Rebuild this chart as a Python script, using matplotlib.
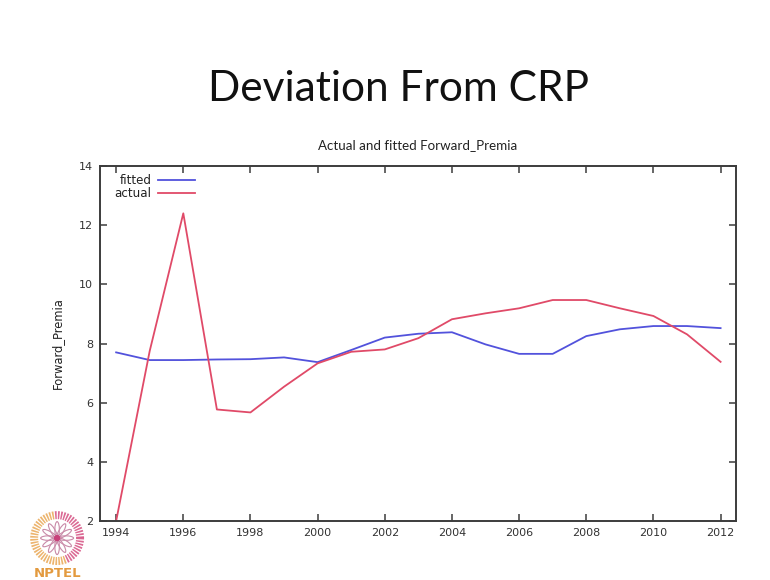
import numpy as np
import matplotlib
matplotlib.use("Agg")
import matplotlib.pyplot as plt
from matplotlib.patches import Wedge, Circle, Ellipse

# Forward premia: model fit vs. observed values
years = [1994, 1995, 1996, 1997, 1998, 1999, 2000, 2001, 2002, 2003,
         2004, 2005, 2006, 2007, 2008, 2009, 2010, 2011, 2012]
fitted = [7.70, 7.44, 7.44, 7.46, 7.47, 7.53, 7.37, 7.78, 8.20, 8.33,
          8.38, 7.97, 7.65, 7.65, 8.25, 8.48, 8.59, 8.59, 8.52]
actual = [2.00, 7.75, 12.40, 5.77, 5.67, 6.54, 7.33, 7.72, 7.80, 8.18,
          8.82, 9.02, 9.19, 9.47, 9.47, 9.19, 8.93, 8.31, 7.38]

x_ticks = list(range(1994, 2013, 2))
y_ticks = [2, 4, 6, 8, 10, 12, 14]

BLUE = "#5252dc"
RED = "#e04a68"
AXIS = "#3c3c3c"

fig = plt.figure(figsize=(7.7, 5.8), dpi=100)
fig.patch.set_facecolor("white")

# Slide heading
fig.text(0.517, 0.847, "Deviation From CRP", ha="center", va="center",
         fontsize=30.5, family="Lato", color="#111111")

ax = fig.add_axes([0.1299, 0.1017, 0.8260, 0.6121])
ax.plot(years, fitted, color=BLUE, lw=1.3, label="fitted")
ax.plot(years, actual, color=RED, lw=1.3, label="actual")

ax.set_xlim(1993.52, 2012.46)
ax.set_ylim(2, 14)
ax.set_xticks(x_ticks)
ax.set_yticks(y_ticks)
ax.tick_params(direction="in", length=5, width=1.1, color=AXIS,
               top=True, right=True, labelsize=8, labelcolor="#333333", pad=5)
for s in ax.spines.values():
    s.set_color(AXIS)
    s.set_linewidth(1.4)

ax.set_title("Actual and fitted Forward_Premia", fontsize=9.6, family="Lato",
             color="#222222", pad=12)
ax.set_ylabel("Forward_Premia", fontsize=8.3, color="#222222", labelpad=11)

leg = ax.legend(loc="upper left", bbox_to_anchor=(0.01, 1.001), frameon=False,
                markerfirst=False, fontsize=8.6, handlelength=3.1,
                handletextpad=0.5, labelspacing=0.02, borderaxespad=0.3)
for t in leg.get_texts():
    t.set_color("#222222")

# NPTEL emblem in the lower-left corner
lax = fig.add_axes([0.0, 0.0, 0.16, 0.16])
lax.set_xlim(0, 123)
lax.set_ylim(0, 93)
lax.set_aspect("equal")
lax.axis("off")
cx, cy = 57, 42
for a in np.arange(0, 360, 7):
    col = "#e8a24a" if (a > 95 and a < 290) else "#d2457a"
    lax.add_patch(Wedge((cx, cy), 27, a, a + 4, width=8, color=col, alpha=0.8,
                        lw=0))
for a in np.arange(0, 360, 30):
    r = np.deg2rad(a)
    lax.add_patch(Ellipse((cx + 8.5 * np.cos(r), cy + 8.5 * np.sin(r)), 16, 4.5,
                          angle=a, fill=False, ec="#c98aa8", lw=0.8))
lax.add_patch(Circle((cx, cy), 2.5, color="#c8407a"))
lax.text(cx, 0.5, "NPTEL", ha="center", va="bottom", fontsize=9.5,
         fontweight="bold", color="#e39a3f", family="DejaVu Sans")

fig.savefig("out.png", dpi=100, facecolor="white")
